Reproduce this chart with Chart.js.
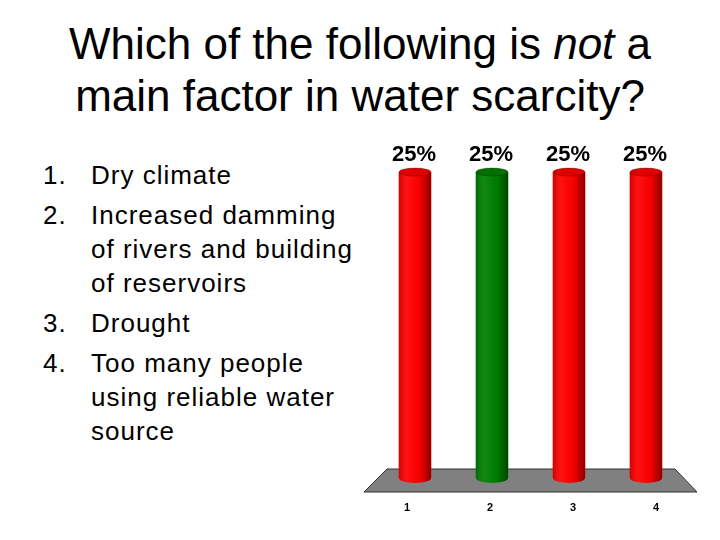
<!DOCTYPE html>
<html>
<head>
<meta charset="utf-8">
<script src="https://cdn.jsdelivr.net/npm/chart.js@4.4.1/dist/chart.umd.min.js"></script>
<style>
    body { margin: 0; width: 720px; height: 540px; background: #fff; position: relative; overflow: hidden;
           font-family: "Liberation Sans", Arial, sans-serif; color: #000; }
    .title { position: absolute; left: 0; top: 18px; width: 720px; text-align: center;
             font-size: 44px; line-height: 52px; }
    .list { position: absolute; left: 0; top: 158px; font-size: 26px; line-height: 34px; letter-spacing: 1px; }
    .item { position: relative; margin-bottom: 6px; }
    .num { position: absolute; left: 43px; top: 0; }
    .txt { margin-left: 91px; white-space: nowrap; }
    .chartBox { position: absolute; left: 360px; top: 130px; width: 360px; height: 410px; }
</style>
</head>
<body>
<div class="title">Which of the following is <i>not</i> a<br>main factor in water scarcity?</div>
<div class="list" id="list"></div>
<div class="chartBox"><canvas id="barChart"></canvas></div>

<script>
// answer options shown on the left
const answers = [
    ['Dry climate'],
    ['Increased damming', 'of rivers and building', 'of reservoirs'],
    ['Drought'],
    ['Too many people', 'using reliable water', 'source']
];

// chart data
const categories = ['1', '2', '3', '4'];
const values = [25, 25, 25, 25];
const barColors = ['#FF0000', '#008000', '#FF0000', '#FF0000'];

const listEl = document.getElementById('list');
answers.forEach((lines, i) => {
    const item = document.createElement('div');
    item.className = 'item';
    item.innerHTML = '<span class="num">' + (i + 1) + '.</span><div class="txt">' + lines.join('<br>') + '</div>';
    listEl.appendChild(item);
});

// 3D-ish look: grey floor, cylinder shading, % labels and perspective category labels
const cylinderPlugin = {
    id: 'cylinders',
    beforeDatasetsDraw(chart) {
        const { ctx, chartArea } = chart;
        const b = chartArea.bottom;
        ctx.save();
        ctx.beginPath();
        ctx.moveTo(chartArea.left + 10.5, b - 9);
        ctx.lineTo(chartArea.right - 9.5, b - 9);
        ctx.lineTo(chartArea.right + 12.5, b + 14);
        ctx.lineTo(chartArea.left - 12.5, b + 14);
        ctx.closePath();
        ctx.fillStyle = '#808080';
        ctx.fill();
        ctx.strokeStyle = '#333';
        ctx.lineWidth = 1;
        ctx.stroke();
        ctx.restore();
    },
    afterDatasetsDraw(chart) {
        const { ctx, chartArea } = chart;
        const meta = chart.getDatasetMeta(0);
        const xScale = chart.scales.x;
        ctx.save();
        meta.data.forEach((bar, i) => {
            const w = bar.width, x0 = bar.x - w / 2, x1 = bar.x + w / 2;
            const shade = ctx.createLinearGradient(x0, 0, x1, 0);
            shade.addColorStop(0, 'rgba(0,0,0,0.18)');
            shade.addColorStop(0.3, 'rgba(255,255,255,0.06)');
            shade.addColorStop(0.65, 'rgba(0,0,0,0.04)');
            shade.addColorStop(1, 'rgba(0,0,0,0.45)');

            // rounded bottom
            ctx.beginPath();
            ctx.ellipse(bar.x, bar.base, w / 2, 5, 0, 0, Math.PI);
            ctx.fillStyle = barColors[i];
            ctx.fill();
            ctx.fillStyle = shade;
            ctx.fill();

            // body shading
            ctx.fillStyle = shade;
            ctx.fillRect(x0, bar.y, w, bar.base - bar.y);

            // top cap
            ctx.beginPath();
            ctx.ellipse(bar.x, bar.y, w / 2, 4, 0, 0, Math.PI * 2);
            ctx.fillStyle = barColors[i];
            ctx.fill();
            ctx.fillStyle = 'rgba(0,0,0,0.12)';
            ctx.fill();
            ctx.strokeStyle = 'rgba(0,0,0,0.35)';
            ctx.lineWidth = 0.8;
            ctx.stroke();

            // value label
            ctx.fillStyle = '#000';
            ctx.font = 'bold 22px "Liberation Sans", Arial, sans-serif';
            ctx.textAlign = 'center';
            ctx.textBaseline = 'middle';
            ctx.fillText(values[i] + '%', bar.x - 1, bar.y - 17);

            // category label on the front edge of the floor
            const cx = xScale.getPixelForValue(i);
            const px = cx + (cx - 157.7) * 0.078;
            ctx.font = 'bold 11px "Liberation Sans", Arial, sans-serif';
            ctx.fillText(categories[i], px, chartArea.bottom + 30);
        });
        ctx.restore();
    }
};

new Chart(document.getElementById('barChart'), {
    type: 'bar',
    data: {
        labels: categories,
        datasets: [{
            data: values,
            backgroundColor: barColors,
            borderWidth: 0,
            barThickness: 32
        }]
    },
    options: {
        responsive: true,
        maintainAspectRatio: false,
        animation: false,
        layout: { padding: { left: 16.5, right: 35.5, top: 42, bottom: 62 } },
        plugins: { legend: { display: false }, tooltip: { enabled: false } },
        scales: {
            x: { display: false },
            y: { display: false, min: 0, max: 25 }
        }
    },
    plugins: [cylinderPlugin]
});
</script>
</body>
</html>
